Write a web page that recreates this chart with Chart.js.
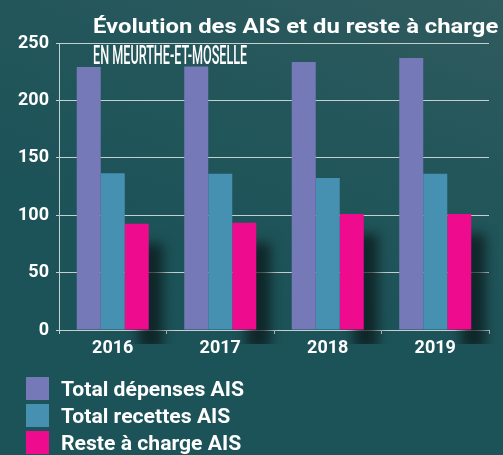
<!DOCTYPE html>
<html>
<head>
<meta charset="utf-8">
<script src="https://cdn.jsdelivr.net/npm/chart.js@4.4.0/dist/chart.umd.min.js"></script>
<style>
html, body { margin: 0; padding: 0; }
body {
  width: 503px; height: 455px; overflow: hidden; position: relative;
  font-family: Roboto, sans-serif;
  background: linear-gradient(200deg, #315b5e 0%, #22565b 30%, #1c5358 60%, #1b5358 100%);
}
#chart { position: absolute; left: 0; top: 0; }
.title { position: absolute; left: 93px; top: 14px; color: #fff; font-weight: 700; font-size: 21px; line-height: 24px; white-space: nowrap; transform-origin: 0 0; }
.sub { position: absolute; left: 93px; top: 42px; color: #fff; font-weight: 500; font-size: 25px; line-height: 28px; white-space: nowrap; transform-origin: 0 0; }
#legend { position: absolute; left: 26px; top: 377px; }
.item { height: 23px; margin-bottom: 4px; display: flex; align-items: center; }
.box { width: 23px; height: 23px; margin-right: 12px; flex: none; }
.lbl { color: #fff; font-weight: 700; font-size: 20px; white-space: nowrap; transform-origin: 0 50%; }
</style>
</head>
<body>
<canvas id="chart" width="503" height="455"></canvas>
<div class="title" id="title">Évolution des AIS et du reste à charge</div>
<div class="sub" id="sub">EN MEURTHE-ET-MOSELLE</div>
<div id="legend"></div>
<script>
// data
const years = ['2016', '2017', '2018', '2019'];
const depenses = [229, 229.5, 233.5, 237];
const recettes = [136.5, 136, 132.5, 136];
const reste = [92.5, 93.5, 101, 101];
const seriesNames = ['Total dépenses AIS', 'Total recettes AIS', 'Reste à charge AIS'];
const seriesColors = ['#7579b8', '#4690b1', '#ee0b8e'];

const gridCol = '#c6cfcf';
const tickFont = { family: 'Roboto', size: 18, weight: 'bold' };

// the original text is a bit wider than Roboto, stretch to match
function stretchTo(el, w) {
  el.style.transform = 'scaleX(' + (w / el.scrollWidth) + ')';
}
stretchTo(document.getElementById('title'), 405);
stretchTo(document.getElementById('sub'), 154);

// shadow behind the pink bars
const barShadow = {
  id: 'barShadow',
  beforeDatasetDraw(chart, args) {
    if (args.index !== 2) return;
    const ctx = chart.ctx;
    ctx.save();
    ctx.shadowColor = 'rgba(10,20,22,0.7)';
    ctx.shadowBlur = 12;
    ctx.shadowOffsetX = 14;
    ctx.shadowOffsetY = 20;
  },
  afterDatasetDraw(chart, args) {
    if (args.index !== 2) return;
    chart.ctx.restore();
  }
};

const chart = new Chart(document.getElementById('chart'), {
  type: 'bar',
  data: {
    labels: years,
    datasets: [
      { label: seriesNames[0], data: depenses, backgroundColor: seriesColors[0] },
      { label: seriesNames[1], data: recettes, backgroundColor: seriesColors[1] },
      { label: seriesNames[2], data: reste, backgroundColor: seriesColors[2], clip: { left: 0, top: 0, right: 30, bottom: 14 } }
    ]
  },
  options: {
    responsive: false,
    animation: false,
    devicePixelRatio: 1,
    layout: { padding: { top: 43, right: 14, bottom: 95, left: 0 } },
    datasets: { bar: { categoryPercentage: 0.67, barPercentage: 1 } },
    plugins: { legend: { display: false }, tooltip: { enabled: false } },
    scales: {
      x: {
        grid: { drawOnChartArea: false, color: gridCol, tickLength: 4 },
        border: { color: gridCol },
        ticks: { color: '#fff', font: tickFont, padding: 4 },
        afterFit(scale) { scale.height = 30; }
      },
      y: {
        min: 0, max: 250,
        ticks: { stepSize: 50, color: '#fff', font: tickFont, padding: 7 },
        grid: { color: gridCol, tickLength: 3 },
        border: { color: gridCol },
        afterFit(scale) { scale.width = 59; }
      }
    }
  },
  plugins: [barShadow]
});

// legend stacked in a column, built from the chart datasets
const legend = document.getElementById('legend');
let ratio = null;
chart.data.datasets.forEach(function(ds) {
  const item = document.createElement('div');
  item.className = 'item';
  item.innerHTML = '<div class="box" style="background:' + ds.backgroundColor + '"></div><span class="lbl">' + ds.label + '</span>';
  legend.appendChild(item);
  const lbl = item.querySelector('.lbl');
  if (ratio === null) ratio = 183 / lbl.offsetWidth;
  lbl.style.transform = 'scaleX(' + ratio + ')';
});
</script>
</body>
</html>
